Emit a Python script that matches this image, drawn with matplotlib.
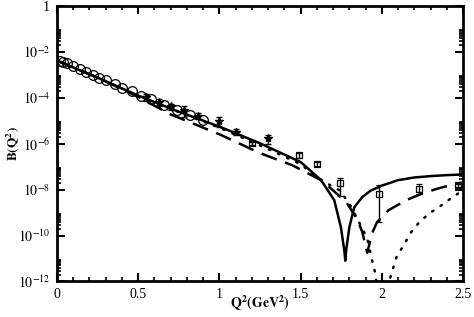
import numpy as np
import matplotlib
matplotlib.use("Agg")
import matplotlib.pyplot as plt
from matplotlib.ticker import FixedLocator, FixedFormatter

plt.rcParams['font.family'] = ['Liberation Serif', 'DejaVu Serif']
plt.rcParams['mathtext.fontset'] = 'stix'

# model curves (Q^2, B)
q_solid = [0.0, 0.25, 0.5, 0.75, 1.0, 1.25, 1.5, 1.626, 1.707, 1.748, 1.769, 1.775,
           1.78, 1.80, 1.83, 1.88, 1.93, 2.0, 2.1, 2.2, 2.3, 2.4, 2.5]
b_solid = [4.2e-3, 7.6e-4, 1.26e-4, 2.5e-5, 5.6e-6, 1.05e-6, 1.6e-7, 2.6e-8, 3.5e-9,
           2.3e-10, 2.2e-11, 8e-12, 2.2e-11, 2.3e-10, 1.7e-9, 4.8e-9, 9.0e-9, 1.5e-8,
           2.6e-8, 3.4e-8, 3.9e-8, 4.3e-8, 4.6e-8]

q_dash = [0.0, 0.25, 0.5, 0.7, 1.0, 1.25, 1.45, 1.626, 1.70, 1.78, 1.85, 1.88, 1.91,
          1.94, 1.97, 2.04, 2.15, 2.25, 2.35, 2.47, 2.5]
b_dash = [4.2e-3, 7.6e-4, 1.1e-4, 1.9e-5, 2.6e-6, 3.9e-7, 1.15e-7, 2.6e-8, 9.3e-9,
          2.9e-9, 5.0e-10, 1.4e-10, 1.8e-11, 1.26e-10, 3.8e-10, 1.26e-9, 3.5e-9,
          6.9e-9, 1.15e-8, 1.9e-8, 2.1e-8]

q_dot = [0.0, 0.25, 0.5, 0.75, 1.0, 1.25, 1.5, 1.6, 1.68, 1.74, 1.80, 1.86, 1.91, 1.94,
         1.96, 1.98, 2.03, 2.05, 2.09, 2.14, 2.18, 2.23, 2.29, 2.35, 2.41, 2.47, 2.5]
b_dot = [4.2e-3, 7.6e-4, 1.2e-4, 2.4e-5, 5.0e-6, 8.5e-7, 1.3e-7, 3.5e-8, 1.6e-8, 9.3e-9,
         2.5e-9, 3.8e-10, 7.6e-11, 8.3e-12, 2.2e-12, 1e-13, 1e-13, 1.35e-12, 1.15e-11,
         4.5e-11, 1.4e-10, 3.8e-10, 9.1e-10, 1.7e-9, 3.5e-9, 6.9e-9, 1.0e-8]

# data: open circles
q_circ = [0.02, 0.04, 0.06, 0.10, 0.14, 0.18, 0.22, 0.26, 0.30, 0.36, 0.40, 0.46,
          0.52, 0.58, 0.66, 0.74, 0.82, 0.90]
b_circ = [4.0e-3, 3.7e-3, 3.2e-3, 2.4e-3, 1.8e-3, 1.35e-3, 1.0e-3, 7.6e-4, 5.8e-4,
          3.9e-4, 2.8e-4, 1.9e-4, 1.25e-4, 8.5e-5, 5.0e-5, 3.0e-5, 1.8e-5, 1.05e-5]

# data: filled stars with error bars
q_star = [0.55, 0.63, 0.70, 0.78, 0.87, 1.0, 1.1, 1.3]
b_star = [1.05e-4, 6.5e-5, 4.3e-5, 2.9e-5, 1.7e-5, 1.0e-5, 3.3e-6, 1.7e-6]
e_star = [0.35e-4, 2.0e-5, 1.2e-5, 1.4e-5, 0.5e-5, 0.45e-5, 1.0e-6, 0.7e-6]

# data: open squares with error bars
q_sq = [1.2, 1.49, 1.6, 1.74, 1.98, 2.23, 2.47]
b_sq = [1.05e-6, 3.2e-7, 1.38e-7, 1.95e-8, 6.8e-9, 1.1e-8, 1.55e-8]
e_sq_lo = [0.2e-6, 0.8e-7, 0.3e-7, 1.4e-8, 6.4e-9, 0.45e-8, 0.3e-8]
e_sq_hi = [0.2e-6, 0.8e-7, 0.3e-7, 1.2e-8, 9.0e-9, 0.7e-8, 0.3e-8]

fig = plt.figure(figsize=(4.74, 3.17), dpi=100)
ax = fig.add_axes([0.120, 0.112, 0.857, 0.869])

ax.plot(q_solid, b_solid, color='black', lw=1.8)
ax.plot(q_dash, b_dash, color='black', lw=1.8, linestyle=(0, (6.5, 3.5)))
ax.plot(q_dot, b_dot, color='black', lw=1.8, linestyle=(0, (0.6, 3.4)),
        dash_capstyle='round')

ax.plot(q_circ, b_circ, 'o', mfc='none', mec='black', ms=7, mew=0.9)
ax.errorbar(q_star, b_star, yerr=e_star, fmt='*', color='black', ms=6,
            capsize=2.5, elinewidth=1, capthick=1)
ax.errorbar(q_sq, b_sq, yerr=[e_sq_lo, e_sq_hi], fmt='s', mfc='none', mec='black',
            ecolor='black', ms=5, mew=0.9, capsize=2.5, elinewidth=1, capthick=1)

ax.set_yscale('log')
ax.set_xlim(0, 2.5)
ax.set_ylim(1e-12, 1)

ax.yaxis.set_major_locator(FixedLocator([10.0**e for e in range(-12, 1, 2)]))
ax.yaxis.set_major_formatter(FixedFormatter(
    [r'$10^{-12}$', r'$10^{-10}$', r'$10^{-8}$', r'$10^{-6}$', r'$10^{-4}$',
     r'$10^{-2}$', '1']))
ax.yaxis.set_minor_locator(FixedLocator(
    [k * 10.0**e for e in range(-12, 0, 2) for k in range(2, 10)]))

ax.xaxis.set_major_locator(FixedLocator([0, 0.5, 1, 1.5, 2, 2.5]))
ax.xaxis.set_major_formatter(FixedFormatter(['0', '0.5', '1', '1.5', '2', '2.5']))
ax.xaxis.set_minor_locator(FixedLocator(np.arange(0, 2.51, 0.1)))

ax.tick_params(which='both', direction='in', top=True, right=True, labelsize=10)
ax.tick_params(which='major', length=6, width=1.5, pad=5)
ax.tick_params(which='minor', length=3, width=1.2)
for s in ax.spines.values():
    s.set_linewidth(2)

ax.set_xlabel(r'$\mathbf{Q^2(GeV^2)}$', fontsize=10)
ax.set_ylabel(r'$\mathbf{B(Q^2)}$', fontsize=9.5)
ax.xaxis.set_label_coords(0.5, -0.045)
ax.yaxis.set_label_coords(-0.088, 0.5)

fig.savefig('out.png', dpi=100)
